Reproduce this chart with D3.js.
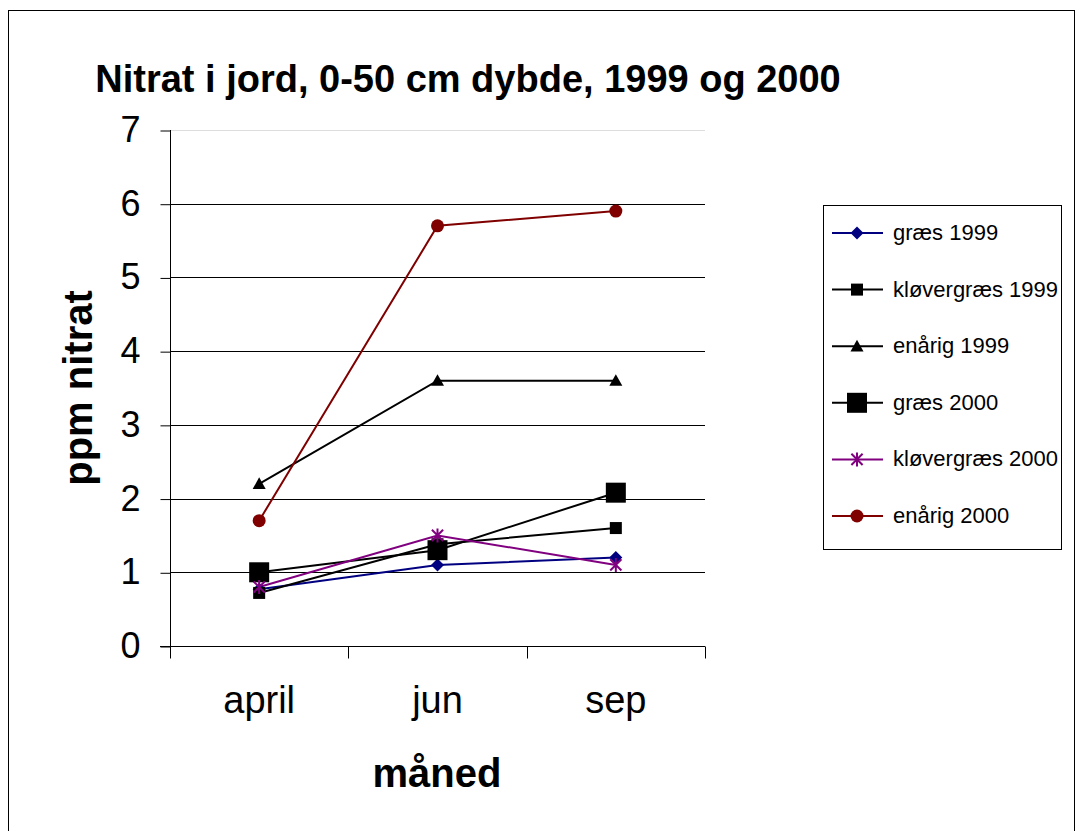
<!DOCTYPE html>
<html>
<head>
<meta charset="utf-8">
<script src="https://cdn.jsdelivr.net/npm/d3@7"></script>
<style>
  body { margin: 0; background: #fff; }
  text { font-family: Arial, "Liberation Sans", sans-serif; }
</style>
</head>
<body>
<svg id="chart" width="1080" height="831"></svg>
<script>
const months = ["april", "jun", "sep"];
const yTicks = [0, 1, 2, 3, 4, 5, 6, 7];

const graes1999 = [0.77, 1.1, 1.2];
const kloever1999 = [0.72, 1.38, 1.6];
const enaarig1999 = [2.2, 3.6, 3.6];
const graes2000 = [1.0, 1.3, 2.08];
const kloever2000 = [0.8, 1.5, 1.1];
const enaarig2000 = [1.7, 5.7, 5.9];

const seriesNames = ["græs 1999", "kløvergræs 1999", "enårig 1999", "græs 2000", "kløvergræs 2000", "enårig 2000"];

const series = [
  { name: seriesNames[0], values: graes1999, color: "#000080", marker: "diamond", size: 13 },
  { name: seriesNames[1], values: kloever1999, color: "#000000", marker: "square", size: 12 },
  { name: seriesNames[2], values: enaarig1999, color: "#000000", marker: "triangle", size: 13 },
  { name: seriesNames[3], values: graes2000, color: "#000000", marker: "square", size: 20 },
  { name: seriesNames[4], values: kloever2000, color: "#800080", marker: "star", size: 14 },
  { name: seriesNames[5], values: enaarig2000, color: "#800000", marker: "circle", size: 13 }
];

const svg = d3.select("#chart");

// outer frame
svg.append("rect")
  .attr("x", 8.5).attr("y", 10.5)
  .attr("width", 1066).attr("height", 830)
  .attr("fill", "none").attr("stroke", "#000").attr("stroke-width", 1);

const plot = { left: 170, right: 705, top: 130, bottom: 646 };

const x = d3.scaleBand().domain(months).range([plot.left, plot.right]);
const y = d3.scaleLinear().domain([0, 7]).range([plot.bottom, plot.top]);

// gridlines
svg.append("g")
  .selectAll("line")
  .data(yTicks.filter(d => d > 0))
  .join("line")
  .attr("x1", plot.left).attr("x2", plot.right)
  .attr("y1", d => Math.round(y(d)) + 0.5).attr("y2", d => Math.round(y(d)) + 0.5)
  .attr("stroke", d => d === 7 ? "#ddd" : "#000")
  .attr("stroke-width", 1);

// y axis
const leftAxis = d3.axisLeft(y).tickValues(yTicks).tickFormat(d3.format("d")).tickSize(10).tickPadding(20);
const gy = svg.append("g")
  .attr("transform", `translate(${plot.left + 0.5},0)`)
  .call(leftAxis);
gy.select(".domain").attr("d", `M0,${plot.top}V${plot.bottom + 12}`);
gy.selectAll(".tick line").attr("transform", "translate(0,0.5)");
gy.selectAll("text").style("font-size", "36px").attr("fill", "#000");

// x axis
const bottomAxis = d3.axisBottom(x).tickSize(0).tickPadding(40);
const gx = svg.append("g")
  .attr("transform", `translate(0,${plot.bottom + 0.5})`)
  .call(bottomAxis);
gx.select(".domain").attr("d", `M${plot.left - 10},0H${plot.right}`);
gx.selectAll("text").style("font-size", "38px").attr("fill", "#000");
gx.selectAll(".cat-tick")
  .data(months.map(m => x(m)).concat([plot.right]))
  .join("line")
  .attr("class", "cat-tick")
  .attr("x1", d => Math.round(d) + 0.5).attr("x2", d => Math.round(d) + 0.5)
  .attr("y1", 0).attr("y2", 12)
  .attr("stroke", "#000");

// titles
svg.append("text")
  .attr("x", 468).attr("y", 92)
  .attr("text-anchor", "middle")
  .style("font-size", "38px").style("font-weight", "bold")
  .text("Nitrat i jord, 0-50 cm dybde, 1999 og 2000");

svg.append("text")
  .attr("x", 437).attr("y", 787)
  .attr("text-anchor", "middle")
  .style("font-size", "40px").style("font-weight", "bold")
  .text("måned");

svg.append("text")
  .attr("transform", "translate(92,388) rotate(-90)")
  .attr("text-anchor", "middle")
  .style("font-size", "40px").style("font-weight", "bold")
  .text("ppm nitrat");

// markers
const drawMarker = (g, s) => {
  const r = s.size / 2;
  if (s.marker === "diamond") {
    g.append("path").attr("d", `M0,${-r}L${r},0L0,${r}L${-r},0Z`).attr("fill", s.color);
  } else if (s.marker === "square") {
    g.append("rect").attr("x", -r).attr("y", -r).attr("width", s.size).attr("height", s.size).attr("fill", s.color);
  } else if (s.marker === "triangle") {
    g.append("path").attr("d", `M0,${-r}L${r},${r * 0.8}L${-r},${r * 0.8}Z`).attr("fill", s.color);
  } else if (s.marker === "circle") {
    g.append("circle").attr("r", r).attr("fill", s.color);
  } else if (s.marker === "star") {
    const k = r * 0.8;
    g.append("path")
      .attr("d", `M0,${-r}V${r}M${-k},${-k}L${k},${k}M${-k},${k}L${k},${-k}`)
      .attr("stroke", s.color).attr("stroke-width", 2).attr("fill", "none");
  }
};

const line = d3.line()
  .x((d, i) => x(months[i]) + x.bandwidth() / 2)
  .y(d => y(d));

series.forEach(s => {
  svg.append("path")
    .datum(s.values)
    .attr("d", line)
    .attr("fill", "none")
    .attr("stroke", s.color)
    .attr("stroke-width", 2);
});
series.forEach(s => {
  s.values.forEach((v, i) => {
    const g = svg.append("g")
      .attr("transform", `translate(${x(months[i]) + x.bandwidth() / 2},${y(v)})`);
    drawMarker(g, s);
  });
});

// legend
const legend = svg.append("g");
legend.append("rect")
  .attr("x", 823.5).attr("y", 205.5)
  .attr("width", 238).attr("height", 344)
  .attr("fill", "#fff").attr("stroke", "#000");

series.forEach((s, i) => {
  const ly = 233 + i * 56.6;
  legend.append("line")
    .attr("x1", 832).attr("x2", 883)
    .attr("y1", ly).attr("y2", ly)
    .attr("stroke", s.color).attr("stroke-width", 2);
  const g = legend.append("g").attr("transform", `translate(857,${ly})`);
  drawMarker(g, s);
  legend.append("text")
    .attr("x", 893).attr("y", ly + 7)
    .style("font-size", "22px")
    .text(s.name);
});
</script>
</body>
</html>
